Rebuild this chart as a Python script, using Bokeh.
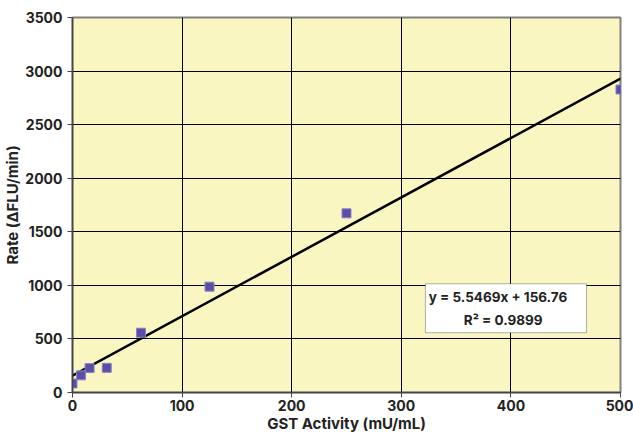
from bokeh.plotting import figure
from bokeh.models import Range1d, FixedTicker, Label, BoxAnnotation
from bokeh.embed import file_html
from bokeh.resources import INLINE

# Data
activity = [0, 7.8, 15.6, 31.25, 62.5, 125, 250, 500]
rate = [84, 160, 228, 230, 558, 988, 1672, 2828]
slope = 5.5469
intercept = 156.76
eq_text = "y = 5.5469x + 156.76"
r2_text = "R\u00b2 = 0.9899"
x_title = "GST Activity (mU/mL)"
y_title = "Rate (\u0394FLU/min)"
x_ticks = [0, 100, 200, 300, 400, 500]
y_ticks = [0, 500, 1000, 1500, 2000, 2500, 3000, 3500]

FONT = "Inter"
TXT = "#222222"

p = figure(width=633, height=435, output_backend="svg", toolbar_location=None,
           x_range=Range1d(0, 500), y_range=Range1d(0, 3500),
           min_border_left=70, min_border_right=13, min_border_top=17, min_border_bottom=42)
p.background_fill_color = "#FAF6C2"
p.border_fill_color = "white"
p.outline_line_color = "#808080"
p.outline_line_width = 2

p.xgrid.grid_line_color = "black"
p.ygrid.grid_line_color = "black"
p.xgrid.grid_line_width = 1
p.ygrid.grid_line_width = 1

p.xaxis.ticker = FixedTicker(ticks=x_ticks)
p.yaxis.ticker = FixedTicker(ticks=y_ticks)
for ax in (p.xaxis, p.yaxis):
    ax.axis_line_color = "#444444"
    ax.axis_line_width = 1.5
    ax.major_tick_line_color = "#444444"
    ax.major_tick_out = 5
    ax.major_tick_in = 0
    ax.minor_tick_line_color = None
    ax.major_label_text_font = FONT
    ax.major_label_text_font_style = "bold"
    ax.major_label_text_font_size = "14px"
    ax.major_label_text_color = TXT
    ax.axis_label_text_font = FONT
    ax.axis_label_text_font_style = "bold"
    ax.axis_label_text_font_size = "15px"
    ax.axis_label_text_color = TXT
p.xaxis.major_label_standoff = 2
p.xaxis.axis_label_standoff = 0
p.yaxis.major_label_standoff = 5
p.yaxis.axis_label_standoff = 0
p.xaxis.axis_label = x_title
p.yaxis.axis_label = y_title

# Trendline from the stated regression
xs = [0, 500]
ys = [intercept + slope * x for x in xs]
p.line(xs, ys, line_color="black", line_width=2.5)

p.scatter(activity, rate, marker="square", size=9, fill_color="#5A4EA8",
          line_color="#8C84C6", line_width=1)

box = BoxAnnotation(left=322, right=469, bottom=558, top=1015,
                    fill_color="white", fill_alpha=1, line_color="black", line_width=1)
p.add_layout(box)
p.add_layout(Label(x=325, y=895, text=eq_text, text_font=FONT, text_font_style="bold",
                   text_font_size="13.5px", text_color=TXT, text_baseline="middle"))
p.add_layout(Label(x=393, y=680, text=r2_text, text_font=FONT, text_font_style="bold",
                   text_font_size="13.5px", text_color=TXT, text_baseline="middle",
                   text_align="center"))

open("out.html", "w").write(file_html(p, INLINE))
